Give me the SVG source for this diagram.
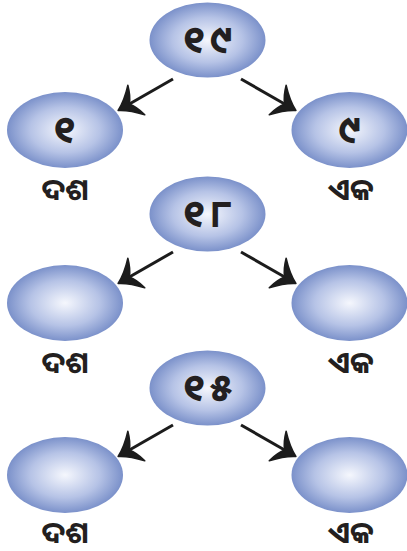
<svg xmlns="http://www.w3.org/2000/svg" width="407" height="551" viewBox="0 0 407 551">
  <style>
    .node { fill: url(#g); }
    .num { font-family: "Noto Sans Oriya", "Lohit Odia", "Noto Sans", "DejaVu Sans", sans-serif; font-size: 38px; font-weight: bold; fill: #231f20; text-anchor: middle; letter-spacing: 5px; }
    .lbl { font-family: "Noto Sans Oriya", "Lohit Odia", "Noto Sans", "DejaVu Sans", sans-serif; font-size: 30px; font-weight: bold; fill: #231f20; text-anchor: middle; }
    .conn { stroke: #1c1c1c; stroke-width: 3; fill: none; marker-end: url(#ah); }
  </style>
  <defs>
    <radialGradient id="g" cx="0.5" cy="0.5" r="0.5">
      <stop offset="0" stop-color="#f5f7fd"/>
      <stop offset="0.6" stop-color="#b6c3e6"/>
      <stop offset="1" stop-color="#7b91ca"/>
    </radialGradient>
    <marker id="ah" markerUnits="userSpaceOnUse" markerWidth="36" markerHeight="40" viewBox="-12 -20 36 40" refX="0" refY="0" orient="auto">
      <path d="M12,0 Q2,-5 -9,-17 Q-6,-6 -1,0 Q-6,6 -9,17 Q2,5 12,0 Z" fill="#1c1c1c" stroke="#1c1c1c" stroke-width="1.5" stroke-linejoin="round"/>
    </marker>
  </defs>

  <g id="connectors">
    <line class="conn" x1="173" y1="79" x2="128.5" y2="104.5"/>
    <line class="conn" x1="241" y1="79" x2="285.5" y2="104.5"/>
    <line class="conn" x1="173" y1="252" x2="128.5" y2="277.5"/>
    <line class="conn" x1="241" y1="252" x2="285.5" y2="277.5"/>
    <line class="conn" x1="173" y1="425" x2="128.5" y2="450.5"/>
    <line class="conn" x1="241" y1="425" x2="285.5" y2="450.5"/>
  </g>

  <g id="n19">
    <ellipse class="node" cx="207.5" cy="40" rx="58" ry="37.5"/>
    <text class="num" x="210" y="53">୧୯</text>
  </g>
  <g id="n19-tens">
    <ellipse class="node" cx="65" cy="130" rx="58" ry="38"/>
    <text class="num" x="67" y="143">୧</text>
    <text class="lbl" x="65" y="200">ଦଶ</text>
  </g>
  <g id="n19-ones">
    <ellipse class="node" cx="349.5" cy="130" rx="58" ry="38"/>
    <text class="num" x="352" y="143">୯</text>
    <text class="lbl" x="351" y="200">ଏକ</text>
  </g>

  <g id="n18">
    <ellipse class="node" cx="207.5" cy="214" rx="58" ry="37.5"/>
    <text class="num" x="210" y="227">୧୮</text>
  </g>
  <g id="n18-tens">
    <ellipse class="node" cx="65" cy="303" rx="58" ry="38"/>
    <text class="lbl" x="65" y="373">ଦଶ</text>
  </g>
  <g id="n18-ones">
    <ellipse class="node" cx="349.5" cy="303" rx="58" ry="38"/>
    <text class="lbl" x="351" y="373">ଏକ</text>
  </g>

  <g id="n15">
    <ellipse class="node" cx="207.5" cy="388" rx="58" ry="37.5"/>
    <text class="num" x="210" y="401">୧୫</text>
  </g>
  <g id="n15-tens">
    <ellipse class="node" cx="65" cy="475" rx="58" ry="38"/>
    <text class="lbl" x="65" y="543">ଦଶ</text>
  </g>
  <g id="n15-ones">
    <ellipse class="node" cx="349.5" cy="475" rx="58" ry="38"/>
    <text class="lbl" x="351" y="543">ଏକ</text>
  </g>
</svg>
